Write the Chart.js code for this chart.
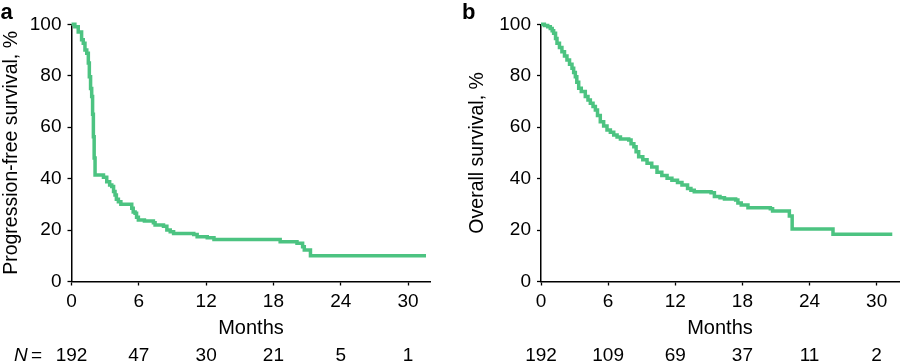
<!DOCTYPE html>
<html>
<head>
<meta charset="utf-8">
<script src="https://cdn.jsdelivr.net/npm/chart.js@4.4.1/dist/chart.umd.min.js"></script>
<style>
  html, body { margin: 0; padding: 0; background: #fff; }
  #wrap { position: relative; width: 900px; height: 361px; overflow: hidden; }
  .panel { position: absolute; top: 0; width: 450px; height: 361px; }
</style>
</head>
<body>
<div id="wrap">
  <div class="panel" style="left:0"><canvas id="pfsChart"></canvas></div>
  <div class="panel" style="left:450px"><canvas id="osChart"></canvas></div>
</div>
<script>
// Month ticks shared by both panels
const monthTicks = [0, 6, 12, 18, 24, 30];
const survivalTicks = [0, 20, 40, 60, 80, 100];

// Numbers at risk under each month tick
const atRiskPfs = [192, 47, 30, 21, 5, 1];
const atRiskOs = [192, 109, 69, 37, 11, 2];

// Progression-free survival (panel a)
const pfsMonths = [0, 0.3, 0.6, 0.9, 1.05, 1.2, 1.36, 1.5, 1.59, 1.7, 1.8, 1.88, 1.95, 2.02, 2.1,
  2.85, 3.14, 3.4, 3.59, 3.75, 3.88, 4.0, 4.18, 4.4, 5.37, 5.5, 5.67, 5.8, 5.96, 6.5, 7.3, 7.45,
  8.2, 8.5, 8.8, 9.1, 10.9, 11.2, 12.1, 12.7, 18.5, 18.6, 20.1, 20.6, 20.75, 21.3, 31.6];
const pfsValues = [100, 99, 97, 94, 92.6, 90, 88.7, 85, 79.6, 75, 71.9, 65, 56.3, 48, 41.4,
  40.5, 38.8, 37.5, 36.9, 35, 33.6, 32, 31, 30, 28.5, 27, 26.5, 25, 23.9, 23.5, 22.8, 22,
  21.5, 20, 19.3, 18.7, 18.3, 17.4, 17, 16.3, 16.3, 15.5, 14.9, 13.5, 12.2, 10, 10];

// Overall survival (panel b)
const osMonths = [0, 0.3, 0.6, 0.83, 1.0, 1.13, 1.3, 1.43, 1.65, 1.87, 2.1, 2.32, 2.55, 2.77, 2.92,
  3.07, 3.2, 3.37, 3.6, 3.96, 4.2, 4.41, 4.65, 4.86, 5.05, 5.3, 5.6, 5.9, 6.2, 6.5, 6.8, 7.1,
  7.84, 8.05, 8.3, 8.5, 8.73, 9.1, 9.48, 9.9, 10.37, 10.8, 11.27, 11.7, 12.2, 12.6, 13.1, 13.4,
  13.7, 15.2, 15.5, 16.0, 16.4, 17.4, 17.6, 17.9, 18.5, 20.5, 20.7, 22.2, 22.45, 25.9, 26.1, 31.4];
const osValues = [100, 99.5, 99, 98.4, 97.5, 96.5, 94.5, 92.6, 91, 89.3, 87.7, 86.1, 84.5, 82.9, 81.3,
  79.6, 77.5, 75.1, 73.9, 71.9, 70.6, 69.3, 68, 66.7, 64.5, 62.1, 60.5, 58.9, 58, 57, 56.2, 55.4,
  55, 53.6, 52.4, 50.4, 48.5, 47.3, 46, 44.5, 42.5, 41.2, 40.1, 39.4, 38.5, 37.5, 36.2, 35.5,
  34.9, 34.5, 33, 32.6, 32.1, 31.7, 30.5, 29.7, 28.7, 28.3, 27.4, 25.5, 20.4, 20.4, 18.4, 18.4];

const FONT = '"Liberation Sans", Arial, Helvetica, sans-serif';
const GREEN = '#4cc381';

// draws the numbers-at-risk row and the panel letter
const riskRow = {
  id: 'riskRow',
  afterDraw(chart, args, opts) {
    const ctx = chart.ctx;
    const xs = chart.scales.x;
    ctx.save();
    ctx.fillStyle = '#000';
    ctx.textBaseline = 'alphabetic';
    ctx.font = '19px ' + FONT;
    ctx.textAlign = 'center';
    opts.counts.forEach((n, i) => {
      ctx.fillText(String(n), xs.getPixelForValue(monthTicks[i]), 360.5);
    });
    if (opts.prefix) {
      ctx.textAlign = 'left';
      ctx.font = 'italic 19px ' + FONT;
      ctx.fillText('N', 14, 360.5);
      ctx.font = '19px ' + FONT;
      ctx.fillText('=', 31, 360.5);
    }
    ctx.textAlign = 'left';
    ctx.font = 'bold 22px ' + FONT;
    ctx.fillText(opts.letter, opts.letterX, 18.5);
    ctx.restore();
  }
};

function makeChart(id, months, values, cfg) {
  return new Chart(document.getElementById(id).getContext('2d'), {
    type: 'scatter',
    data: {
      datasets: [{
        data: months.map((m, i) => ({ x: m, y: values[i] })),
        showLine: true,
        stepped: 'before',
        borderColor: GREEN,
        borderWidth: 3.5,
        pointRadius: 0,
        clip: false
      }]
    },
    options: {
      responsive: true,
      maintainAspectRatio: false,
      animation: false,
      devicePixelRatio: 1,
      layout: { padding: { top: 24.3, right: cfg.padRight, bottom: 0, left: 0 } },
      plugins: {
        legend: { display: false },
        tooltip: { enabled: false },
        riskRow: { counts: cfg.counts, prefix: cfg.prefix, letter: cfg.letter, letterX: cfg.letterX }
      },
      scales: {
        x: {
          type: 'linear',
          min: 0,
          max: 32,
          afterBuildTicks: (s) => { s.ticks = monthTicks.map(v => ({ value: v })); },
          afterFit: (s) => { s.height = 79.5; },
          grid: { display: true, drawOnChartArea: false, drawTicks: true, tickLength: 4, tickWidth: 1.3, tickColor: '#000' },
          border: { display: true, color: '#000', width: 1.5 },
          ticks: { color: '#000', font: { family: FONT, size: 19 }, padding: 4.5, maxRotation: 0, autoSkip: false },
          title: { display: true, text: 'Months', color: '#000', font: { family: FONT, size: 20 }, padding: { top: 0, bottom: 20.2 } }
        },
        y: {
          min: 0,
          max: 100,
          afterBuildTicks: (s) => { s.ticks = survivalTicks.map(v => ({ value: v })); },
          afterFit: (s) => { s.width = cfg.yWidth; },
          grid: { display: true, drawOnChartArea: false, drawTicks: true, tickLength: 4, tickWidth: 1.3, tickColor: '#000' },
          border: { display: true, color: '#000', width: 1.5 },
          ticks: { color: '#000', font: { family: FONT, size: 19 }, padding: 6 },
          title: { display: true, text: cfg.yTitle, color: '#000', font: { family: FONT, size: 19.5 }, padding: { top: cfg.titlePad, bottom: 0 } }
        }
      }
    },
    plugins: [riskRow]
  });
}

makeChart('pfsChart', pfsMonths, pfsValues, {
  yTitle: 'Progression-free survival, %', yWidth: 71.5, titlePad: 0, padRight: 19.5,
  counts: atRiskPfs, prefix: true, letter: 'a', letterX: 0.5
});
makeChart('osChart', osMonths, osValues, {
  yTitle: 'Overall survival, %', yWidth: 91, titlePad: 15.5, padRight: 1,
  counts: atRiskOs, prefix: false, letter: 'b', letterX: 12
});
</script>
</body>
</html>
